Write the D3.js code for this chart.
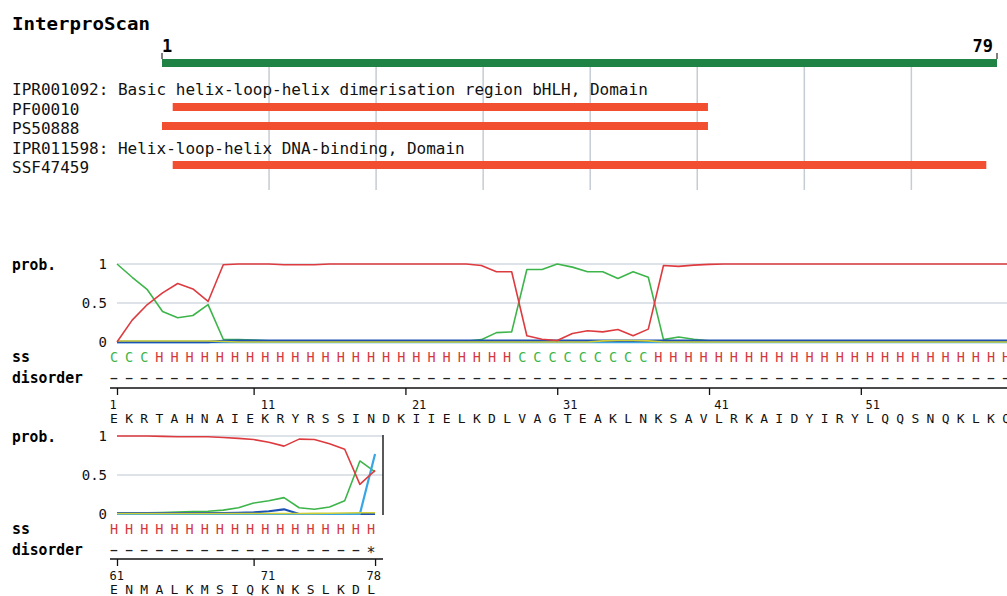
<!DOCTYPE html>
<html><head><meta charset="utf-8">
<script src="https://cdn.jsdelivr.net/npm/d3@7"></script>
<style>
html,body{margin:0;padding:0;background:#fff;overflow:hidden}
text{font-family:"DejaVu Sans Mono",monospace}
</style></head>
<body><svg id="c" width="1007" height="596"></svg>
<script>
// ---------- data ----------
const seqLength = 79;
const featureNames = ["IPR001092: Basic helix-loop-helix dimerisation region bHLH, Domain","PF00010","PS50888","IPR011598: Helix-loop-helix DNA-binding, Domain","SSF47459"];
const featureStart = [null, 2, 1, null, 2];
const featureEnd   = [null, 52, 52, null, 78];
const gridResidues = [11,21,31,41,51,61,71];

const seq1 = "EKRTAHNAIEKRYRSSINDKIIELKDLVAGTEAKLNKSAVLRKAIDYIRYLQQSNQKLKQ";
const ss1  = "CCCHHHHHHHHHHHHHHHHHHHHHHHHCCCCCCCCCHHHHHHHHHHHHHHHHHHHHHHHH";
const dis1 = "------------------------------------------------------------";
const seq2 = "ENMALKMSIQKNKSLKDL";
const ss2  = "HHHHHHHHHHHHHHHHHH";
const dis2 = "-----------------*";

const helix1 = [0,0.28,0.48,0.63,0.75,0.68,0.52,0.99,1,1,1,0.99,0.99,0.99,1,1,1,1,1,1,1,1,1,1,0.98,0.9,0.9,0.08,0.035,0.02,0.11,0.145,0.13,0.16,0.08,0.165,0.98,0.97,0.985,0.995,1,1,1,1,1,1,1,1,1,1,1,1,1,1,1,1,1,1,1,1];
const coil1  = [1,0.83,0.67,0.39,0.31,0.34,0.48,0.035,0.03,0.025,0.015,0.008,0.006,0.006,0.006,0.006,0.006,0.006,0.006,0.006,0.006,0.006,0.006,0.008,0.03,0.12,0.13,0.93,0.93,1,0.96,0.9,0.9,0.815,0.9,0.83,0.03,0.065,0.035,0.015,0.008,0.006,0.006,0.006,0.006,0.006,0.006,0.006,0.006,0.006,0.006,0.006,0.006,0.006,0.006,0.006,0.006,0.006,0.006,0.006];
const strand1 = [0,0,0,0,0,0,0,0.012,0.016,0.016,0.016,0.016,0.016,0.016,0.016,0.016,0.016,0.016,0.016,0.016,0.016,0.016,0.016,0.016,0.016,0.016,0.016,0.016,0.016,0.016,0.016,0.016,0.016,0.016,0.016,0.016,0.016,0.016,0.016,0.016,0.016,0.016,0.016,0.016,0.016,0.016,0.016,0.016,0.016,0.016,0.016,0.016,0.016,0.016,0.016,0.016,0.016,0.016,0.016,0.016];
const turn1 = [0,0,0,0,0,0,0,0,0,0,0,0,0,0,0,0,0,0,0,0,0,0,0,0,0,0,0,0,0,0,0,0,0,0,0,0,0,0,0,0,0,0,0,0,0,0,0,0,0,0,0,0,0,0,0,0,0,0,0,0];
const other1 = [0.012,0.012,0.012,0.012,0.012,0.012,0.012,0.006,0,0,0,0,0,0,0,0,0,0,0,0,0,0,0,0,0,0,0,0,0,0,0,0,0.014,0.02,0.02,0.014,0,0,0,0,0,0,0,0,0,0,0,0,0,0,0,0,0,0,0,0,0,0,0,0];

const helix2  = [1,1,1,0.995,0.99,0.99,0.99,0.98,0.97,0.955,0.92,0.87,0.96,0.955,0.9,0.83,0.38,0.56];
const coil2   = [0.01,0.012,0.015,0.02,0.025,0.03,0.035,0.05,0.08,0.14,0.17,0.21,0.08,0.06,0.09,0.17,0.68,0.54];
const strand2 = [0.012,0.012,0.012,0.012,0.012,0.012,0.012,0.012,0.014,0.02,0.035,0.06,0,0,0,0,0,0];
const turn2   = [0,0,0,0,0,0,0,0,0,0,0,0,0,0,0,0,0,0.77];
const other2  = [0.006,0.006,0.006,0.006,0.006,0.006,0.006,0.006,0.006,0.006,0.006,0.006,0.006,0.008,0.01,0.012,0.016,0.016];

const yTicks = [0, 0.5, 1];

// ---------- drawing ----------
const svg = d3.select("#c");

svg.append("text").attr("x",12).attr("y",30).attr("font-weight","bold").attr("font-size",17)
  .attr("textLength",138).attr("lengthAdjust","spacingAndGlyphs").text("InterproScan");

const xs = d3.scaleLinear().domain([1, seqLength]).range([162, 997]);

svg.append("g").selectAll("line").data(gridResidues).join("line")
  .attr("x1",d=>xs(d)).attr("x2",d=>xs(d)).attr("y1",67).attr("y2",190)
  .attr("stroke","#c6ccd3").attr("stroke-width",1.5);

svg.append("rect").attr("x",xs(1)).attr("y",59).attr("width",xs(seqLength)-xs(1)).attr("height",8).attr("fill","#1f8346");
[1, seqLength].forEach(v=>{
  svg.append("line").attr("x1",xs(v)).attr("x2",xs(v)).attr("y1",53).attr("y2",59).attr("stroke","#000").attr("stroke-width",1);
});
svg.append("text").attr("x",xs(1)).attr("y",52).attr("font-weight","bold").attr("font-size",17).text("1");
svg.append("text").attr("x",xs(seqLength)-4).attr("y",52).attr("text-anchor","end").attr("font-weight","bold").attr("font-size",17).text(String(seqLength));

const rowBase = [95,115,134,154,173];
featureNames.forEach((n,i)=>{
  svg.append("text").attr("x",12).attr("y",rowBase[i]).attr("font-size",16).attr("fill","#111").text(n);
  if (featureStart[i] != null) {
    svg.append("rect").attr("x",xs(featureStart[i])).attr("y",rowBase[i]-12).attr("width",xs(featureEnd[i])-xs(featureStart[i]))
      .attr("height",8).attr("fill","#f24f30");
  }
});

const colors = {helix:"#dd3b3f", coil:"#3db54a", strand:"#1d52b3", turn:"#38a6e6", other:"#cfcf3a"};

function panel(opt){
  const {first,last,seq,ss,dis,series,yTop,yBot,right,axisY} = opt;
  const x = d3.scaleLinear().domain([first, first+59]).range([117, 117+59*15.18]);
  const y = d3.scaleLinear().domain([0,1]).range([yBot, yTop]);
  const lx = d3.scaleLinear().domain([first, first+59]).range([114, 114+59*15.12]);
  const g = svg.append("g");
  g.selectAll("line.grid").data([0.5,1]).join("line").attr("class","grid")
    .attr("x1",117).attr("x2",right).attr("y1",d=>y(d)).attr("y2",d=>y(d))
    .attr("stroke","#bcc7d3").attr("stroke-width",1.2);
  g.selectAll("text.yl").data(yTicks).join("text").attr("class","yl")
    .attr("x",107).attr("y",d=>y(d)+5).attr("text-anchor","end").attr("font-size",14).attr("fill","#111")
    .text(d=>d===0.5?"0.5":String(d));
  if (opt.border) {
    g.append("line").attr("x1",right).attr("x2",right).attr("y1",yTop-1).attr("y2",yBot+1).attr("stroke","#222").attr("stroke-width",1.5);
  }
  const idx = d3.range(first, last+1);
  const line = vals => d3.line().x((d,i)=>x(idx[i])).y(d=>y(d))(vals);
  series.forEach(s=>{
    g.append("path").attr("d",line(s.v)).attr("fill","none").attr("stroke",colors[s.k]).attr("stroke-width",s.w||1.6).attr("stroke-linejoin","round");
  });
  svg.append("text").attr("x",12).attr("y",yTop+6).attr("font-weight","bold").attr("font-size",15)
    .attr("textLength",44).attr("lengthAdjust","spacingAndGlyphs").text("prob.");
  svg.append("text").attr("x",12).attr("y",yBot+20).attr("font-weight","bold").attr("font-size",15)
    .attr("textLength",18).attr("lengthAdjust","spacingAndGlyphs").text("ss");
  svg.append("text").attr("x",12).attr("y",yBot+41).attr("font-weight","bold").attr("font-size",15)
    .attr("textLength",71).attr("lengthAdjust","spacingAndGlyphs").text("disorder");
  g.selectAll("text.ss").data(ss.split("")).join("text").attr("class","ss")
    .attr("x",(d,i)=>lx(first+i)).attr("y",yBot+20).attr("text-anchor","middle").attr("font-size",13.5)
    .attr("fill",d=>d==="C"?"#3db54a":"#d4373d").text(d=>d);
  // disorder marks: dashes stretched horizontally
  const dg = g.selectAll("g.ds").data(dis.split("")).join("g").attr("class","ds")
    .attr("transform",(d,i)=>d==="-" ? `translate(${lx(first+i)},${yBot+41}) scale(1.75,1)` : `translate(${lx(first+i)},${yBot+44})`);
  dg.append("text").attr("text-anchor","middle").attr("font-size",d=>d==="-"?15:15).attr("fill","#222").text(d=>d);
  g.append("line").attr("x1",110).attr("x2",right).attr("y1",axisY).attr("y2",axisY).attr("stroke","#111").attr("stroke-width",1.5);
  const ax = d3.axisBottom(x).tickValues(opt.ticks).tickSize(7).tickFormat("").tickSizeOuter(0);
  const ag = g.append("g").attr("transform",`translate(0,${axisY})`).call(ax);
  ag.select(".domain").remove();
  ag.selectAll("line").attr("stroke","#111").attr("stroke-width",1.3);
  g.selectAll("text.num").data(opt.labels).join("text").attr("class","num")
    .attr("x",d=>lx(d)-4.5).attr("y",axisY+21).attr("font-size",12).attr("fill","#111").text(d=>d);
  g.selectAll("text.seq").data(seq.split("")).join("text").attr("class","seq")
    .attr("x",(d,i)=>lx(first+i)).attr("y",axisY+35).attr("text-anchor","middle").attr("font-size",13).attr("fill","#111").text(d=>d);
}

panel({first:1,last:60,seq:seq1,ss:ss1,dis:dis1,yTop:264,yBot:342,right:1007,axisY:388,border:false,
  ticks:[1,10,20,30,40,50,60], labels:[1,11,21,31,41,51],
  series:[{k:"coil",v:coil1},{k:"turn",v:turn1,w:2.4},{k:"strand",v:strand1,w:2.4},{k:"other",v:other1},{k:"helix",v:helix1}]});

panel({first:61,last:78,seq:seq2,ss:ss2,dis:dis2,yTop:436,yBot:514,right:383,axisY:559,border:true,
  ticks:[61,70,78], labels:[61,71,78],
  series:[{k:"coil",v:coil2},{k:"strand",v:strand2,w:2.2},{k:"turn",v:turn2,w:2.2},{k:"other",v:other2},{k:"helix",v:helix2}]});
</script>
</body></html>
